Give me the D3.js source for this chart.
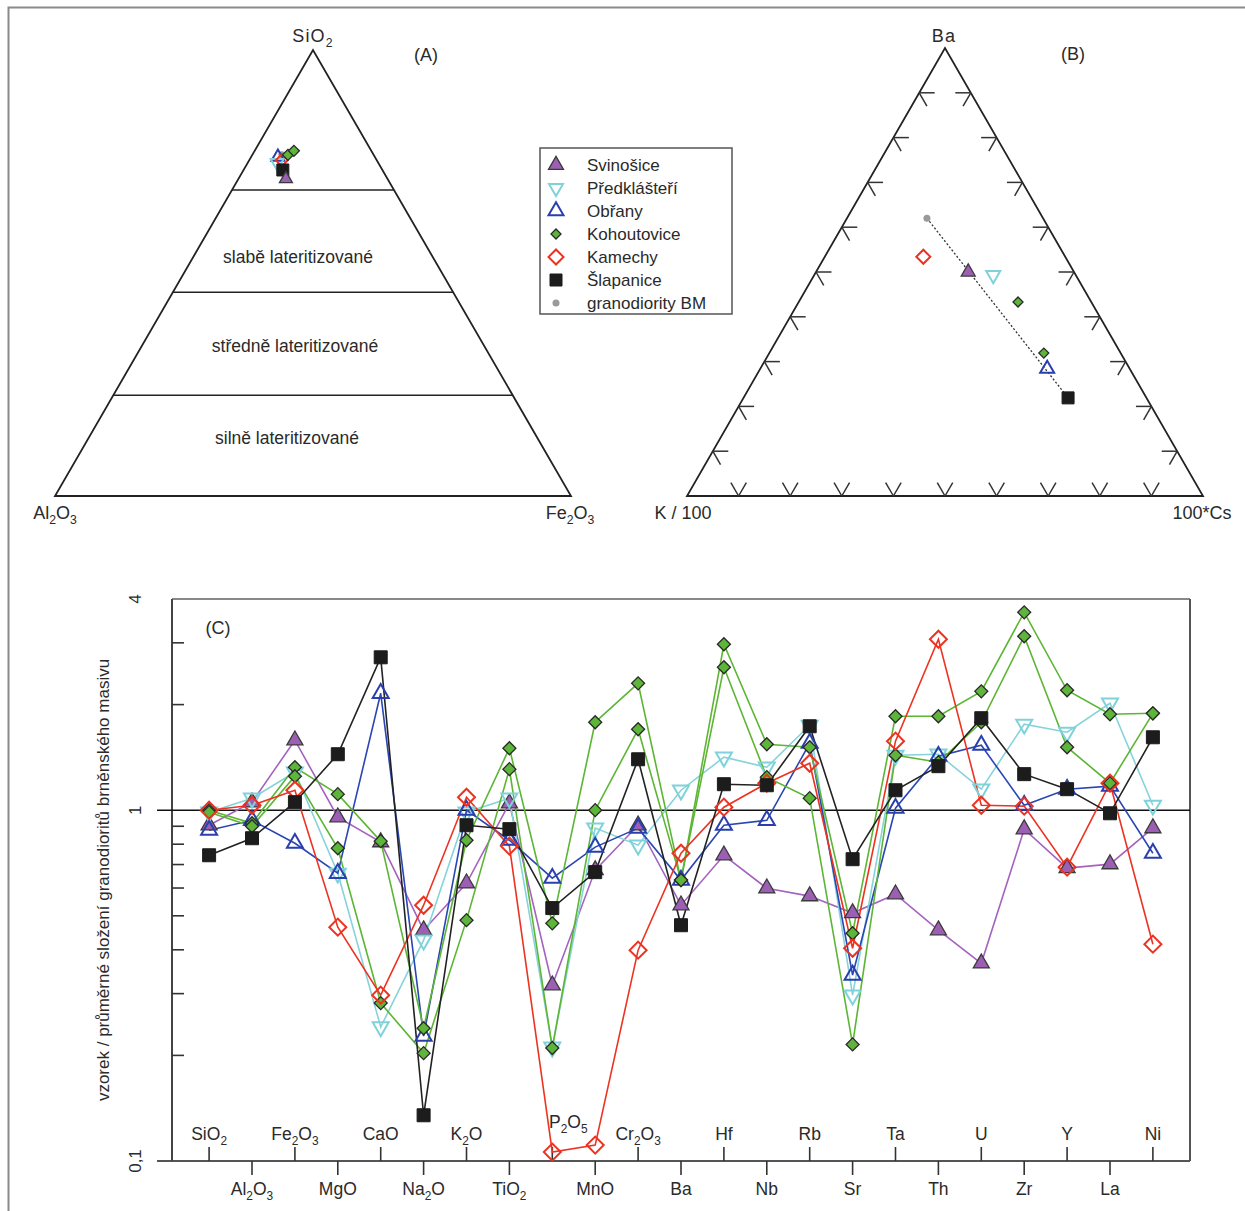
<!DOCTYPE html>
<html>
<head>
<meta charset="utf-8">
<script src="https://cdn.jsdelivr.net/npm/d3@7"></script>
<style>
  body { margin: 0; background: #fff; }
  svg { display: block; }
  text { font-family: "Liberation Sans", Arial, sans-serif; fill: #2a2a2a; }
</style>
</head>
<body>
<div id="chart"></div>
<script>
// ---- data ----
const samples = ['Svinošice', 'Předklášteří', 'Obřany', 'Kohoutovice', 'Kamechy', 'Šlapanice', 'granodiority BM'];

// (A) SiO2 - Al2O3 - Fe2O3, %
const terASamples = ['Svinošice', 'Předklášteří', 'Obřany', 'Kohoutovice', 'Kohoutovice', 'Kamechy', 'Šlapanice', 'granodiority BM'];
const terASiO2 = [71.1, 74.7, 76.0, 76.5, 77.4, 75.3, 73.1, 76.5];
const terAAl2O3 = [19.7, 19.6, 18.8, 16.6, 15.0, 18.4, 19.3, 17.8];
const terAFe2O3 = [9.2, 5.7, 5.2, 6.9, 7.6, 6.3, 7.6, 5.7];
const lateritBounds = [68.6, 45.7, 22.6];
const lateritLabels = ['slabě lateritizované', 'středně lateritizované', 'silně lateritizované'];

// (B) Ba - K/100 - 100*Cs, %
const terBSamples = ['Svinošice', 'Předklášteří', 'Obřany', 'Kohoutovice', 'Kohoutovice', 'Kamechy', 'Šlapanice', 'granodiority BM'];
const terBBa = [50.0, 49.3, 28.4, 43.3, 31.9, 53.4, 21.9, 62.0];
const terBK = [20.5, 16.0, 16.0, 14.2, 14.9, 27.5, 15.2, 22.5];
const terBCs = [29.5, 34.7, 55.6, 42.5, 53.2, 19.1, 62.9, 15.5];
const terBTicks = [10, 20, 30, 40, 50, 60, 70, 80, 90];

// (C) sample / mean granodiorite of Brno massif
const categories = ['SiO2', 'Al2O3', 'Fe2O3', 'MgO', 'CaO', 'Na2O', 'K2O', 'TiO2', 'P2O5', 'MnO', 'Cr2O3',
  'Ba', 'Hf', 'Nb', 'Rb', 'Sr', 'Ta', 'Th', 'U', 'Zr', 'Y', 'La', 'Ni'];
const svinosice = [0.906, 1.054, 1.583, 0.955, 0.811, 0.455, 0.619, 1.047, 0.317, 0.675, 0.906, 0.536, 0.744, 0.599, 0.569, 0.509, 0.576, 0.455, 0.366, 0.883, 0.684, 0.702, 0.889];
const predklasteri = [0.987, 1.082, 1.283, 0.661, 0.241, 0.426, 0.987, 1.082, 0.211, 0.889, 0.795, 1.140, 1.416, 1.326, 1.746, 0.297, 1.434, 1.444, 1.148, 1.758, 1.668, 2.018, 1.033];
const obrany = [0.877, 0.936, 0.805, 0.661, 2.154, 0.227, 1.0, 0.821, 0.640, 0.785, 0.889, 0.632, 0.906, 0.936, 1.552, 0.339, 1.013, 1.425, 1.532, 1.033, 1.148, 1.171, 0.754];
const kohoutovice1 = [1.0, 0.918, 1.326, 1.111, 0.816, 0.239, 0.821, 1.502, 0.476, 1.781, 2.300, 0.632, 2.972, 1.542, 1.512, 0.446, 1.853, 1.853, 2.182, 3.665, 2.197, 1.877, 1.889];
const kohoutovice2 = [0.987, 0.900, 1.250, 0.779, 0.282, 0.203, 0.486, 1.309, 0.210, 1.0, 1.701, 0.632, 2.556, 1.242, 1.082, 0.215, 1.434, 1.370, 1.781, 3.132, 1.512, 1.194, 1.889];
const kamechy = [1.0, 1.033, 1.140, 0.464, 0.297, 0.536, 1.089, 0.790, 0.106, 0.111, 0.399, 0.754, 1.020, 1.194, 1.361, 0.404, 1.573, 3.072, 1.033, 1.027, 0.688, 1.194, 0.415];
const slapanice = [0.744, 0.832, 1.054, 1.444, 2.728, 0.135, 0.906, 0.883, 0.526, 0.666, 1.397, 0.470, 1.186, 1.178, 1.735, 0.725, 1.140, 1.335, 1.829, 1.267, 1.148, 0.980, 1.614];
const yTicks = [0.1, 0.2, 0.3, 0.4, 0.5, 0.6, 0.7, 0.8, 0.9, 1, 2, 3, 4];
const yLabels = [[0.1, '0,1'], [1, '1'], [4, '4']];

// ---- styles ----
const styles = {
  'Svinošice': { shape: 'tri', fill: '#9c5fb4', stroke: '#3a3a3a', line: '#a463bf', sw: 1.3 },
  'Předklášteří': { shape: 'itri', fill: 'none', stroke: '#7fd2d9', line: '#86d3da', sw: 2 },
  'Obřany': { shape: 'tri', fill: 'none', stroke: '#2a3fae', line: '#2a46b4', sw: 2 },
  'Kohoutovice': { shape: 'dia', fill: '#5db53a', stroke: '#2a2a2a', line: '#5cb534', sw: 1.3 },
  'Kamechy': { shape: 'dia', fill: 'none', stroke: '#ec3321', line: '#ec3321', sw: 2 },
  'Šlapanice': { shape: 'sq', fill: '#1c1c1c', stroke: '#1c1c1c', line: '#222', sw: 1 },
  'granodiority BM': { shape: 'dot', fill: '#9a9a9a', stroke: 'none', line: '#999', sw: 0 }
};

function symbolPath (shape, s) {
  if (shape === 'tri' || shape === 'itri') return d3.symbol(d3.symbolTriangle, 0.433 * s * s)();
  if (shape === 'sq') return d3.symbol(d3.symbolSquare, s * s)();
  if (shape === 'dia') return d3.symbol(d3.symbolSquare, s * s / 2)();
  return d3.symbol(d3.symbolCircle, Math.PI * s * s / 4)();
}
function symbolRotate (shape) {
  if (shape === 'itri') return ' rotate(180)';
  if (shape === 'dia') return ' rotate(45)';
  return '';
}
// marker sizes per shape (triangle side, square side, diamond diagonal, dot diameter)
const sizeC = { tri: 16, itri: 16, sq: 13, dia: 13, dot: 7 };
const sizeT = { tri: 13, itri: 13, sq: 12, dia: 11, dot: 7 };

function drawMarker (g, name, px, py, sizes, big) {
  const st = styles[name];
  let s = sizes[st.shape];
  if (name === 'Kamechy') s = big;
  g.append('path')
    .attr('d', symbolPath(st.shape, s))
    .attr('transform', 'translate(' + px + ',' + py + ')' + symbolRotate(st.shape))
    .attr('fill', st.fill)
    .attr('stroke', st.stroke)
    .attr('stroke-width', st.sw)
    .attr('stroke-linejoin', 'miter');
}

// label with subscripted digits
function chemText (g, name, px, py, fs, anchor, spacing) {
  const t = g.append('text')
    .attr('x', px).attr('y', py)
    .attr('font-size', fs + 'px')
    .attr('text-anchor', anchor || 'middle');
  if (spacing) t.attr('letter-spacing', spacing);
  const parts = name.match(/[^0-9]+|[0-9]+/g);
  let sub = false;
  parts.forEach(function (p) {
    const isNum = /^[0-9]+$/.test(p);
    const ts = t.append('tspan').text(p);
    if (isNum) {
      ts.attr('font-size', (fs * 0.68) + 'px').attr('dy', fs * 0.28);
      sub = true;
    } else if (sub) {
      ts.attr('dy', -fs * 0.28);
      sub = false;
    }
  });
  return t;
}

const W = 1245;
const H = 1211;
const svg = d3.select('#chart').append('svg')
  .attr('width', W)
  .attr('height', H);

// figure frame
svg.append('rect')
  .attr('x', 8.5).attr('y', 7.5)
  .attr('width', 1300).attr('height', 1300)
  .attr('fill', 'none').attr('stroke', '#8a8a8a').attr('stroke-width', 2);

// ---- ternary helper ----
function ternary (x0, x1, baseY, apexY) {
  const along = d3.scaleLinear().domain([0, 100]).range([x0, x1]);
  const up = d3.scaleLinear().domain([0, 100]).range([baseY, apexY]);
  // a: left vertex, b: right vertex, c: top vertex
  return function (a, b, c) {
    const tot = a + b + c;
    const bb = b / tot * 100;
    const cc = c / tot * 100;
    return [along(bb + cc / 2), up(cc)];
  };
}

// ---- (A) ----
const tA = ternary(55, 571, 496, 50);
const gA = svg.append('g');
const triA = [tA(100, 0, 0), tA(0, 100, 0), tA(0, 0, 100)];
gA.append('path')
  .attr('d', 'M' + triA.map(p => p.join(',')).join('L') + 'Z')
  .attr('fill', 'none').attr('stroke', '#222').attr('stroke-width', 1.8);
lateritBounds.forEach(function (s) {
  const p1 = tA(100 - s, 0, s);
  const p2 = tA(0, 100 - s, s);
  gA.append('line')
    .attr('x1', p1[0]).attr('y1', p1[1]).attr('x2', p2[0]).attr('y2', p2[1])
    .attr('stroke', '#222').attr('stroke-width', 1.6);
});
// class labels, placed at a SiO2 level inside each band
const labelLevels = [53.6, 33.6, 13.0];
const labelShift = [-15, -18, -26];
lateritLabels.forEach(function (lab, i) {
  const c = labelLevels[i];
  const p = tA((100 - c) / 2, (100 - c) / 2, c);
  gA.append('text')
    .attr('x', p[0] + labelShift[i]).attr('y', p[1] + 6)
    .attr('font-size', '17.5px')
    .attr('text-anchor', 'middle')
    .text(lab);
});
chemText(gA, 'SiO2', 313, 42, 18, 'middle', 1.2);
chemText(gA, 'Al2O3', 55, 519, 18, 'middle');
chemText(gA, 'Fe2O3', 570, 519, 18, 'middle');
gA.append('text').attr('x', 426).attr('y', 61).attr('font-size', '18px').attr('text-anchor', 'middle').text('(A)');

const orderA = [7, 2, 1, 5, 3, 4, 6, 0];
orderA.forEach(function (i) {
  const p = tA(terAAl2O3[i], terAFe2O3[i], terASiO2[i]);
  drawMarker(gA, terASamples[i], p[0], p[1], sizeT, 12);
});

// ---- (B) ----
const tB = ternary(687, 1203, 496, 48);
const gB = svg.append('g');
const triB = [tB(100, 0, 0), tB(0, 100, 0), tB(0, 0, 100)];
gB.append('path')
  .attr('d', 'M' + triB.map(p => p.join(',')).join('L') + 'Z')
  .attr('fill', 'none').attr('stroke', '#222').attr('stroke-width', 1.8);
const tl = 3;
function tick (p, q) {
  const a = tB(p[0], p[1], p[2]);
  const b = tB(q[0], q[1], q[2]);
  gB.append('line')
    .attr('x1', a[0]).attr('y1', a[1]).attr('x2', b[0]).attr('y2', b[1])
    .attr('stroke', '#333').attr('stroke-width', 1.5);
}
terBTicks.forEach(function (v) {
  // left edge (K / Ba)
  tick([100 - v, 0, v], [100 - v - tl, tl, v]);
  tick([100 - v, 0, v], [100 - v, tl, v - tl]);
  // right edge (Cs / Ba)
  tick([0, 100 - v, v], [tl, 100 - v - tl, v]);
  tick([0, 100 - v, v], [tl, 100 - v, v - tl]);
  // bottom edge (K / Cs)
  tick([100 - v, v, 0], [100 - v - tl, v, tl]);
  tick([100 - v, v, 0], [100 - v, v - tl, tl]);
});
// mixing line granodiority BM -> Šlapanice
const iG = 7;
const iS = 6;
const pG = tB(terBK[iG], terBCs[iG], terBBa[iG]);
const pS = tB(terBK[iS], terBCs[iS], terBBa[iS]);
gB.append('line')
  .attr('x1', pG[0]).attr('y1', pG[1]).attr('x2', pS[0]).attr('y2', pS[1])
  .attr('stroke', '#333').attr('stroke-width', 1.3).attr('stroke-dasharray', '2,2');
[7, 5, 0, 1, 3, 4, 2, 6].forEach(function (i) {
  const p = tB(terBK[i], terBCs[i], terBBa[i]);
  drawMarker(gB, terBSamples[i], p[0], p[1], { tri: 14, itri: 14, sq: 12, dia: 10, dot: 7 }, 14);
});
gB.append('text').attr('x', 944).attr('y', 42).attr('font-size', '18px').attr('text-anchor', 'middle').attr('letter-spacing', 1.2).text('Ba');
gB.append('text').attr('x', 683).attr('y', 519).attr('font-size', '18px').attr('text-anchor', 'middle').text('K / 100');
gB.append('text').attr('x', 1202).attr('y', 519).attr('font-size', '18px').attr('text-anchor', 'middle').text('100*Cs');
gB.append('text').attr('x', 1073).attr('y', 60).attr('font-size', '18px').attr('text-anchor', 'middle').text('(B)');

// ---- legend ----
const gL = svg.append('g').attr('transform', 'translate(540,148)');
gL.append('rect').attr('width', 192).attr('height', 166)
  .attr('fill', '#fff').attr('stroke', '#555').attr('stroke-width', 1.5);
samples.forEach(function (name, i) {
  const ly = 17 + i * 23;
  drawMarker(gL, name, 16, ly, { tri: 15, itri: 14, sq: 12, dia: 10, dot: 7 }, 15);
  gL.append('text').attr('x', 47).attr('y', ly + 6)
    .attr('font-size', '17px').text(name);
});

// ---- (C) ----
const cLeft = 172;
const cRight = 1190;
const cTop = 599;
const cBottom = 1161;
const x = d3.scalePoint().domain(categories).range([cLeft, cRight]).padding(0.865);
const y = d3.scaleLog().domain([0.1, 4]).range([cBottom, cTop]);
const gC = svg.append('g');

gC.append('line').attr('x1', cLeft).attr('y1', cTop).attr('x2', cRight).attr('y2', cTop)
  .attr('stroke', '#888').attr('stroke-width', 2.2);
gC.append('line').attr('x1', cRight).attr('y1', cTop).attr('x2', cRight).attr('y2', cBottom)
  .attr('stroke', '#555').attr('stroke-width', 2);
gC.append('line').attr('x1', cLeft - 15).attr('y1', cBottom).attr('x2', cRight).attr('y2', cBottom)
  .attr('stroke', '#555').attr('stroke-width', 2);
gC.append('line').attr('x1', cLeft).attr('y1', cTop).attr('x2', cLeft).attr('y2', cBottom)
  .attr('stroke', '#444').attr('stroke-width', 2);
gC.append('line').attr('x1', cLeft - 15).attr('y1', y(1)).attr('x2', cRight).attr('y2', y(1))
  .attr('stroke', '#111').attr('stroke-width', 1.6);

gC.selectAll('.ytick').data(yTicks.filter(v => v !== 1 && v !== 0.1 && v !== 4)).enter().append('line')
  .attr('x1', cLeft).attr('x2', cLeft + 12)
  .attr('y1', d => y(d)).attr('y2', d => y(d))
  .attr('stroke', '#333').attr('stroke-width', 1.6);
yLabels.forEach(function (d) {
  gC.append('text')
    .attr('transform', 'translate(141,' + y(d[0]) + ') rotate(-90)')
    .attr('font-size', '17px').attr('text-anchor', 'middle')
    .text(d[1]);
});
gC.append('text')
  .attr('transform', 'translate(109,' + 880 + ') rotate(-90)')
  .attr('font-size', '17px').attr('text-anchor', 'middle')
  .text('vzorek / průměrné složení granodioritů brněnského masivu');
gC.append('text').attr('x', 218).attr('y', 634).attr('font-size', '18px').attr('text-anchor', 'middle').text('(C)');

categories.forEach(function (c, i) {
  const cx = x(c);
  const upper = i % 2 === 0;
  gC.append('line')
    .attr('x1', cx).attr('x2', cx)
    .attr('y1', cBottom).attr('y2', upper ? cBottom - 14 : cBottom + 14)
    .attr('stroke', '#333').attr('stroke-width', 1.6);
  // P2O5 label is lifted and moved aside so it clears the Kamechy marker
  const lift = c === 'P2O5' ? 12 : 0;
  const side = c === 'P2O5' ? 16 : 0;
  chemText(gC, c, cx + side, (upper ? cBottom - 21 : cBottom + 34) - lift, 17.5, 'middle');
});

const seriesC = [
  ['Svinošice', svinosice],
  ['Předklášteří', predklasteri],
  ['Obřany', obrany],
  ['Kohoutovice', kohoutovice1],
  ['Kohoutovice', kohoutovice2],
  ['Kamechy', kamechy],
  ['Šlapanice', slapanice]
];
const line = d3.line()
  .x((d, i) => x(categories[i]))
  .y(d => y(d));
seriesC.forEach(function (s) {
  gC.append('path')
    .attr('d', line(s[1]))
    .attr('fill', 'none')
    .attr('stroke', styles[s[0]].line)
    .attr('stroke-width', 1.6);
});
seriesC.forEach(function (s) {
  s[1].forEach(function (v, i) {
    drawMarker(gC, s[0], x(categories[i]), y(v), sizeC, 17);
  });
});
</script>
</body>
</html>
